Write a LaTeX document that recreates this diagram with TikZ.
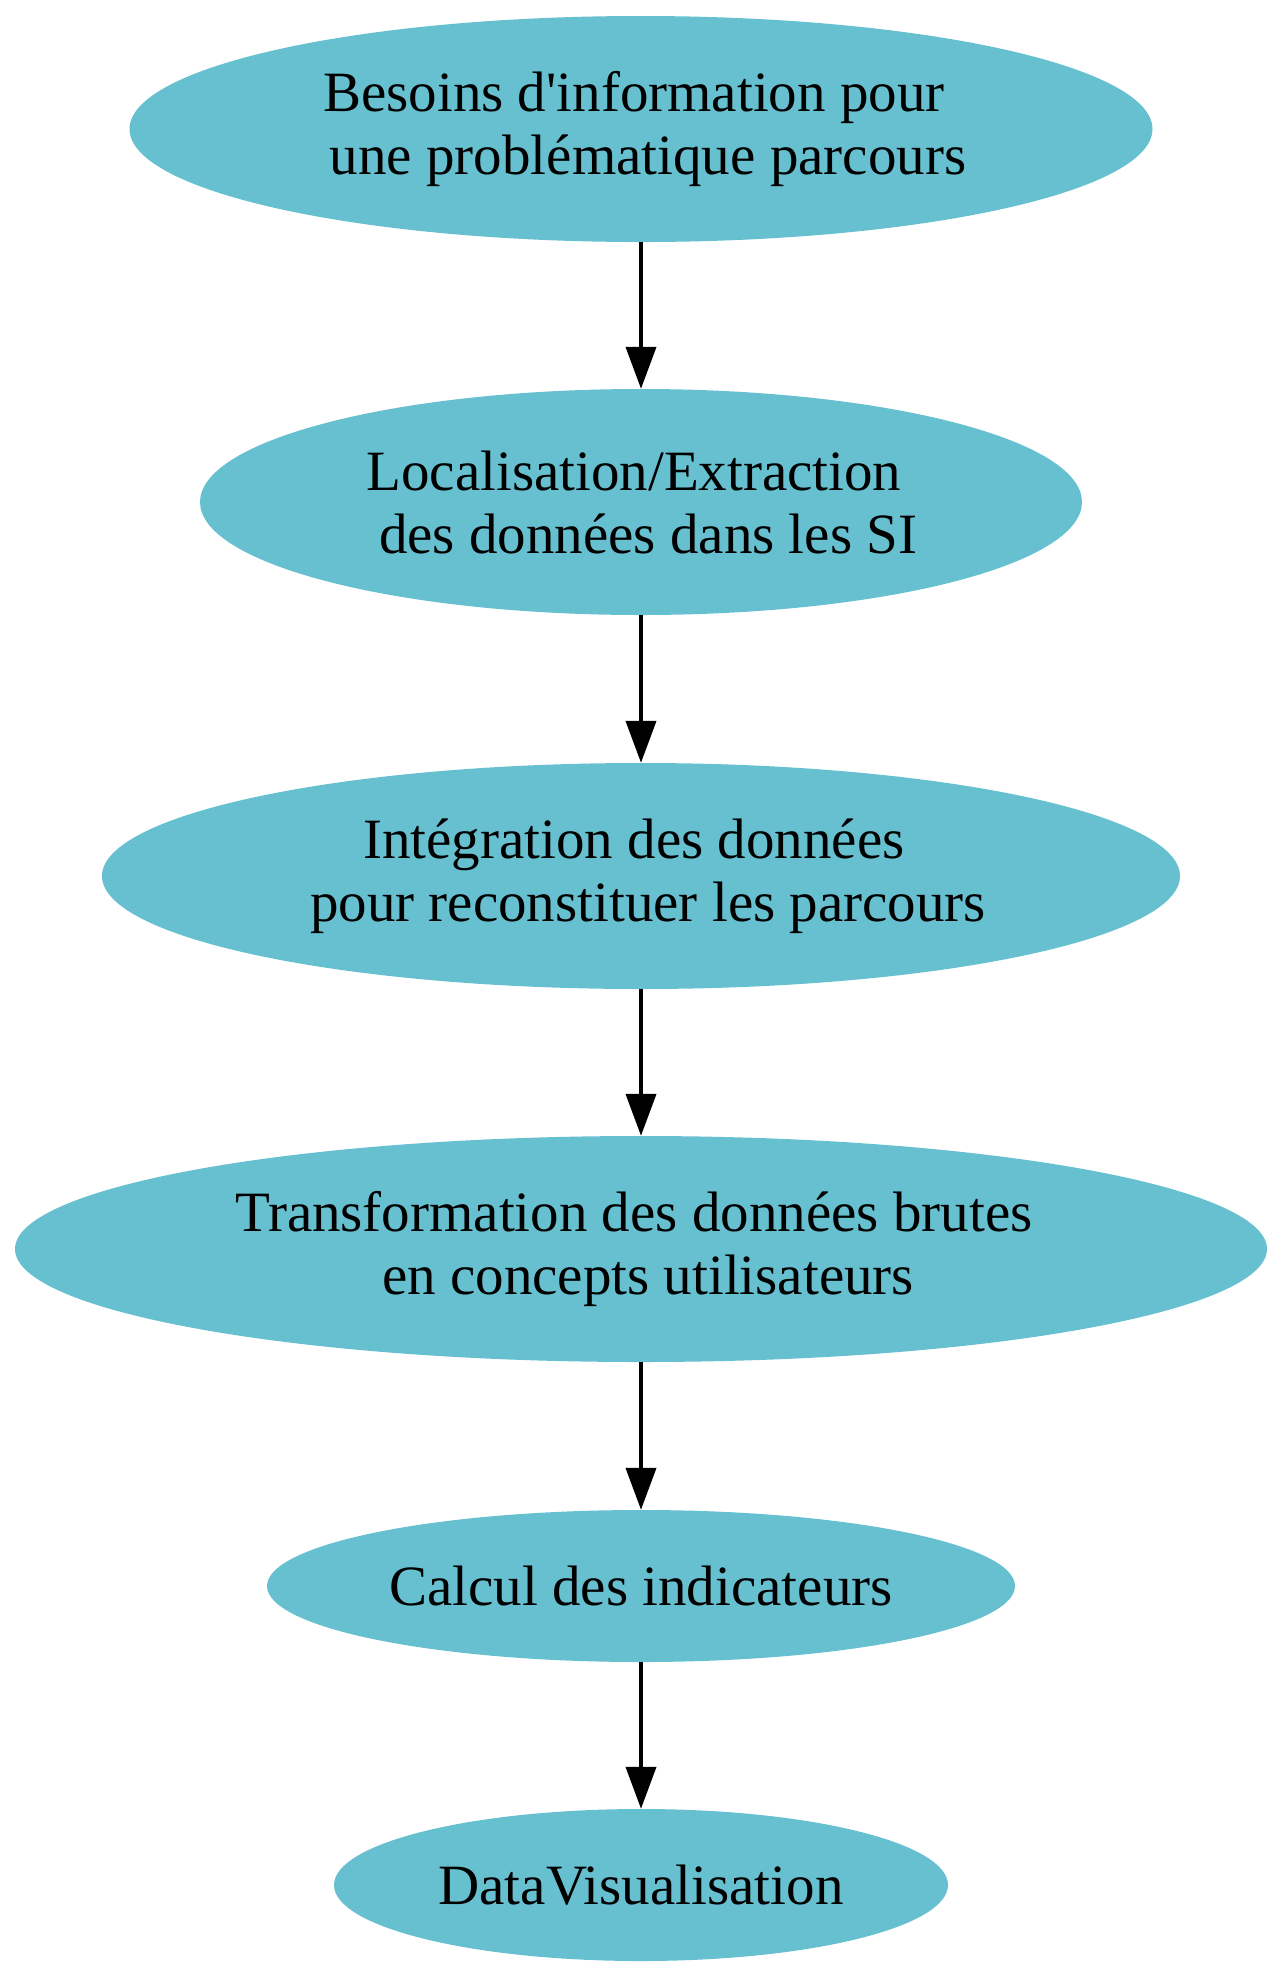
\documentclass[tikz,border=0pt]{standalone}
\usepackage{fontspec}
\setmainfont{Liberation Serif}
\usetikzlibrary{shapes.geometric,arrows.meta}
\definecolor{nodefill}{HTML}{67C0D0}
\newcommand\gsp{\hbox to 0.25em{}}
\begin{document}
\begin{tikzpicture}[x=1pt,y=-1pt,
  stepnode/.style={ellipse,fill=nodefill,draw=none,inner sep=0pt,align=center,
    font=\fontsize{57}{63}\selectfont},
  flow/.style={line width=4pt,-{Triangle[length=42pt,width=30pt]}}]
\useasboundingbox (0,0) rectangle (1283,1979);
\node[stepnode,minimum width=1023pt,minimum height=226pt] (n1) at (641,129)
  {Besoins d\textquotesingle information pour\gsp\\ \gsp une problématique parcours};
\node[stepnode,minimum width=882pt,minimum height=226pt] (n2) at (641,502)
  {Localisation/Extraction\gsp\\ \gsp des données dans les SI};
\node[stepnode,minimum width=1078pt,minimum height=226pt] (n3) at (641,876)
  {Intégration des données\gsp\\ \gsp pour reconstituer les parcours};
\node[stepnode,minimum width=1252pt,minimum height=226pt] (n4) at (641,1249)
  {Transformation des données brutes\gsp\\ \gsp en concepts utilisateurs};
\node[stepnode,minimum width=748pt,minimum height=152pt] (n5) at (641,1586)
  {Calcul des indicateurs};
\node[stepnode,minimum width=614pt,minimum height=152pt] (n6) at (641,1885)
  {DataVisualisation};
\draw[flow] (n1.south) -- (n2.north);
\draw[flow] (n2.south) -- (n3.north);
\draw[flow] (n3.south) -- (n4.north);
\draw[flow] (n4.south) -- (n5.north);
\draw[flow] (n5.south) -- (n6.north);
\end{tikzpicture}
\end{document}
